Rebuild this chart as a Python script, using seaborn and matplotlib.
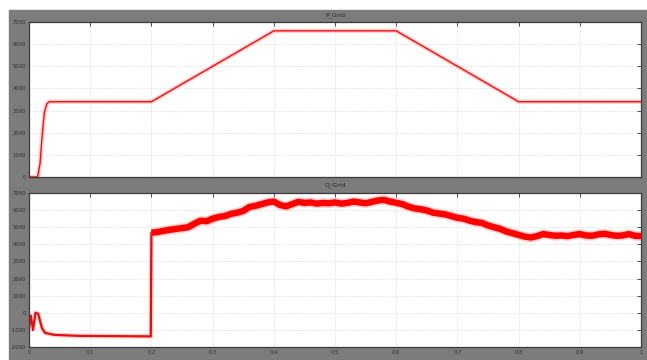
import numpy as np
import pandas as pd
import matplotlib
matplotlib.use("Agg")
import matplotlib.pyplot as plt
from matplotlib.patches import Rectangle
import seaborn as sns

# Active power trace (time in s, power in W)
p_time = [0.0, 0.014, 0.018, 0.021, 0.025, 0.029, 0.033, 0.2, 0.4, 0.6, 0.8, 1.0]
p_grid = [0, 0, 600, 1700, 2900, 3300, 3400, 3400, 6600, 6600, 3400, 3400]

# Reactive power trace (time in s, power in var)
q_time = [0.0, 0.003, 0.0065, 0.0106, 0.015, 0.021, 0.026, 0.041, 0.082, 0.199,
          0.2, 0.21, 0.22, 0.23, 0.24, 0.25, 0.26, 0.27, 0.28, 0.29, 0.30,
          0.31, 0.32, 0.33, 0.34, 0.35, 0.36, 0.37, 0.38, 0.39, 0.40,
          0.41, 0.42, 0.43, 0.44, 0.45, 0.46, 0.47, 0.48, 0.49, 0.50,
          0.51, 0.52, 0.53, 0.54, 0.55, 0.56, 0.57, 0.58, 0.59, 0.60,
          0.61, 0.62, 0.63, 0.64, 0.65, 0.66, 0.67, 0.68, 0.69, 0.70,
          0.71, 0.72, 0.73, 0.74, 0.75, 0.76, 0.77, 0.78, 0.79, 0.80,
          0.81, 0.82, 0.83, 0.84, 0.85, 0.86, 0.87, 0.88, 0.89, 0.90,
          0.91, 0.92, 0.93, 0.94, 0.95, 0.96, 0.97, 0.98, 0.99, 1.00]
q_grid = [-880, -175, -1000, 0, -60, -880, -1170, -1290, -1350, -1380,
          4680, 4720, 4790, 4850, 4900, 4950, 5000, 5200, 5380, 5350, 5500,
          5600, 5650, 5780, 5850, 5950, 6180, 6250, 6350, 6450, 6500,
          6300, 6220, 6350, 6480, 6420, 6450, 6380, 6420, 6400, 6450,
          6380, 6420, 6500, 6450, 6400, 6480, 6560, 6600, 6500, 6430,
          6350, 6200, 6100, 6050, 5980, 5850, 5800, 5750, 5650, 5550,
          5500, 5380, 5300, 5250, 5100, 5000, 4900, 4750, 4650, 4550,
          4450, 4400, 4480, 4600, 4550, 4500, 4520, 4480, 4550, 4600,
          4520, 4500, 4580, 4620, 4550, 4500, 4520, 4600, 4500, 4480]

x_ticks = [0, 0.1, 0.2, 0.3, 0.4, 0.5, 0.6, 0.7, 0.8, 0.9, 1.0]
x_labels = ["0", "0.1", "0.2", "0.3", "0.4", "0.5", "0.6", "0.7", "0.8", "0.9", "1"]
p_ticks = [0, 1000, 2000, 3000, 4000, 5000, 6000, 7000]
q_ticks = [-2000, -1000, 0, 1000, 2000, 3000, 4000, 5000, 6000, 7000]

sns.set_theme(style="white")
plt.rcParams["font.family"] = ["DejaVu Sans"]

W, H = 647, 360
fig = plt.figure(figsize=(W / 100, H / 100), dpi=100)
fig.patch.set_facecolor("white")
fig.patches.append(Rectangle((9 / W, 0), 1 - 9 / W, 1 - 10 / H,
                             transform=fig.transFigure, color="#7c7c7c", zorder=-10))

left = 29 / W
width = (641 - 29) / W
ax1 = fig.add_axes([left, 1 - 177 / H, width, 155 / H])
ax2 = fig.add_axes([left, 1 - 347 / H, width, 154 / H])

df_p = pd.DataFrame({"t": p_time, "P": p_grid})
df_q = pd.DataFrame({"t": q_time, "Q": q_grid})
# start-up transient and step (thin trace) vs. the ripple-laden steady operation (thick trace)
df_q_start = df_q[df_q["t"] <= 0.2]
df_q_run = df_q[df_q["t"] >= 0.2]

sns.lineplot(data=df_p, x="t", y="P", ax=ax1, color="#ffb0b0", lw=3.2,
             estimator=None, alpha=0.6)
sns.lineplot(data=df_p, x="t", y="P", ax=ax1, color="#ee1111", lw=1.0,
             estimator=None)

sns.lineplot(data=df_q_start, x="t", y="Q", ax=ax2, color="#ffb0b0", lw=3.5,
             estimator=None, alpha=0.6)
sns.lineplot(data=df_q_start, x="t", y="Q", ax=ax2, color="#dd1111", lw=1.6,
             estimator=None)
sns.lineplot(data=df_q_run, x="t", y="Q", ax=ax2, color="#ffb0b0", lw=7.0,
             estimator=None, alpha=0.6, solid_capstyle="butt")
sns.lineplot(data=df_q_run, x="t", y="Q", ax=ax2, color="#ff0000", lw=4.6,
             estimator=None, solid_capstyle="butt")

for ax, yt, ylim in ((ax1, p_ticks, (0, 7000)), (ax2, q_ticks, (-2000, 7000))):
    ax.set_facecolor("white")
    ax.set_xlim(0, 1)
    ax.set_ylim(*ylim)
    ax.set_xticks(x_ticks)
    ax.set_yticks(yt)
    ax.set_yticklabels([str(v) for v in yt])
    ax.grid(True, color="#d4d4d4", lw=0.6, ls=":")
    ax.set_xlabel("")
    ax.set_ylabel("")
    ax.tick_params(direction="in", length=3, width=0.6, colors="#303030",
                   labelsize=3.8, top=True, right=True, pad=2)
    for s in ax.spines.values():
        s.set_color("#3a3a3a")
        s.set_linewidth(0.9)

ax1.set_xticklabels([])
ax2.set_xticklabels(x_labels)

fig.text(335 / W, 1 - 15 / H, "P_Grid", ha="center", va="center",
         fontsize=4.5, color="#2a2a2a")
fig.text(335 / W, 1 - 185 / H, "Q_Grid", ha="center", va="center",
         fontsize=4.5, color="#2a2a2a")

fig.savefig("out.png", dpi=100, facecolor=fig.get_facecolor())
